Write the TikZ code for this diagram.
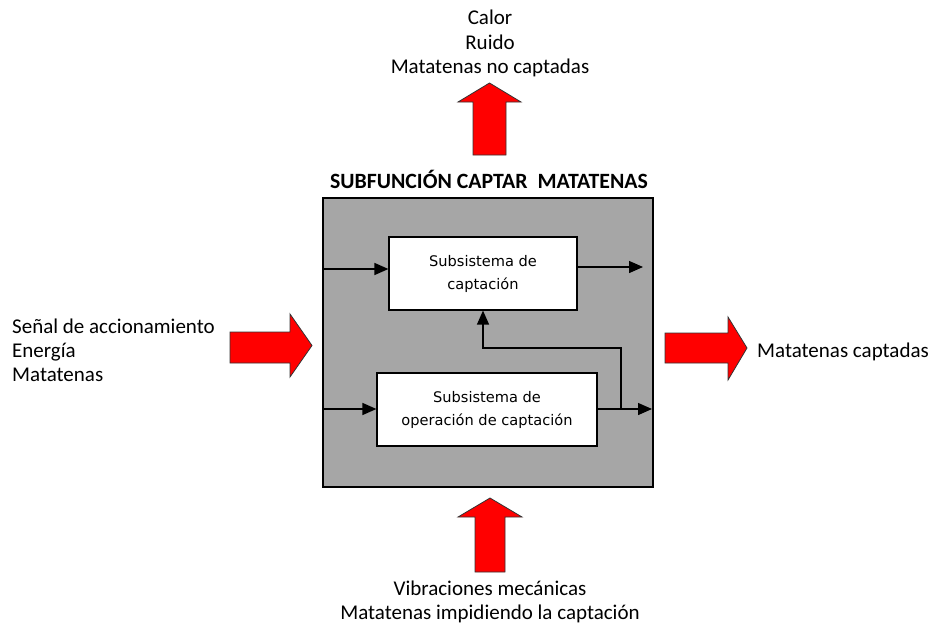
\documentclass[tikz,border=0pt]{standalone}
\usepackage{fontspec}
\setmainfont{Carlito}
\newfontfamily\boxfont{DejaVu Sans}
\usetikzlibrary{arrows.meta}
\begin{document}
\begin{tikzpicture}[x=1pt,y=-1pt,
  flow/.style={line width=1.4pt,-{Triangle[length=14pt,width=12pt]}},
  bigarrow/.style={fill=red,draw=black!80,line width=0.8pt,line join=miter},
  subbox/.style={draw=black,line width=1.2pt,fill=white,inner sep=0pt,font=\boxfont\fontsize{14.6}{23}\selectfont,align=center},
  lbl/.style={font=\fontsize{21}{25}\selectfont,inner sep=0pt,anchor=base}]
\useasboundingbox (0,0) rectangle (933,626);

% enclosing subfunction block
\node[draw=black,line width=1.4pt,fill=black!35,minimum width=330pt,minimum height=289pt,inner sep=0pt] (main) at (488,342.5) {};
\node[font=\bfseries\fontsize{21.8}{24}\selectfont,inner sep=0pt,anchor=base] (title) at (489,188) {SUBFUNCIÓN CAPTAR\ \ MATATENAS};

% internal subsystems
\node[subbox,minimum width=188pt,minimum height=73pt] (capt) at (483,273.5) {Subsistema de\\captación};
\node[subbox,minimum width=220pt,minimum height=73pt] (oper) at (487,409.5) {Subsistema de\\operación de captación};

% internal flows
\coordinate (inA) at (main.west |- 0,269);
\coordinate (inB) at (main.west |- 0,409);
\coordinate (outA) at (643,267);
\coordinate (outB) at (652,409);
\coordinate (split) at (621,409);
\coordinate (fbk) at (621,348);
\draw[flow] (inA) -- (capt.west |- inA);
\draw[flow] (inB) -- (oper.west |- inB);
\draw[flow] (capt.east |- outA) -- (outA);
\draw[flow] (oper.east |- outB) -- (outB);
\draw[flow] (split) -- (fbk) -| (capt.south -| 483,0);

% large input/output arrows
\draw[bigarrow] (473,155) -- (473,102) -- (458,102) -- (489.5,83) -- (521,102) -- (506,102) -- (506,155) -- cycle;
\draw[bigarrow] (475,572) -- (475,517) -- (458,517) -- (490,498) -- (522,517) -- (505,517) -- (505,572) -- cycle;
\draw[bigarrow] (230,332) -- (290,332) -- (290,314) -- (312,345.5) -- (290,377) -- (290,363) -- (230,363) -- cycle;
\draw[bigarrow] (665,333) -- (728,333) -- (728,317) -- (747,348) -- (728,380) -- (728,363) -- (665,363) -- cycle;

% labels
\node[lbl] (t1) at (490,25) {Calor};
\node[lbl] (t2) at (490,49) {Ruido};
\node[lbl] (t3) at (490,73) {Matatenas no captadas};
\node[lbl,anchor=base west] (l1) at (12,333) {Señal de accionamiento};
\node[lbl,anchor=base west] (l2) at (12,357) {Energía};
\node[lbl,anchor=base west] (l3) at (12,381) {Matatenas};
\node[lbl,anchor=base west] (r1) at (757,357) {Matatenas captadas};
\node[lbl] (b1) at (490,595) {Vibraciones mecánicas};
\node[lbl] (b2) at (490,619) {Matatenas impidiendo la captación};
\end{tikzpicture}
\end{document}
